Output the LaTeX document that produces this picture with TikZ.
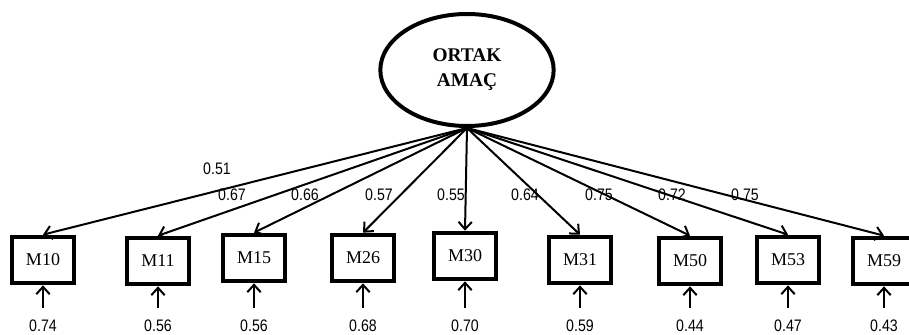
\documentclass[tikz,border=0pt]{standalone}
\usepackage{fontspec}
\setmainfont{Liberation Serif}
\newfontfamily\numfont[FakeStretch=0.85]{Liberation Sans}
\usetikzlibrary{arrows.meta,shapes.geometric}

\begin{document}
\begin{tikzpicture}[x=0.75pt,y=-0.75pt,
  latent/.style={ellipse,draw,line width=3pt,minimum width=130pt,minimum height=84pt,
    align=center,font=\fontsize{14.5}{18.75}\selectfont\bfseries},
  item/.style={rectangle,draw,line width=3pt,minimum width=46.5pt,minimum height=35pt,
    font=\fontsize{13.5}{16}\selectfont},
  coef/.style={font=\numfont\fontsize{12.5}{14}\selectfont,inner sep=1pt},
  load/.style={-{Straight Barb[length=5.5pt,width=10pt]},line width=1.5pt},
  err/.style={load,shorten <=8pt}]
  \useasboundingbox (0,0) rectangle (909,335);
  \clip (0,0) rectangle (909,335);
  % common factor
  \node[latent] (oa) at (467,70) {ORTAK\\AMAÇ};
  % observed items
  \node[item] (m10) at (43,260) {M10};
  \node[item] (m11) at (158,261) {M11};
  \node[item] (m15) at (254,258) {M15};
  \node[item] (m26) at (363,258) {M26};
  \node[item] (m30) at (465,256) {M30};
  \node[item] (m31) at (580,260) {M31};
  \node[item] (m50) at (690,261) {M50};
  \node[item] (m53) at (788,260) {M53};
  \node[item] (m59) at (884,261) {M59};
  % loadings
  \foreach \m in {m10,m11,m15,m26,m30,m31,m50,m53,m59}
    \draw[load] (oa.south) -- (\m.north);
  \node[coef] (l10) at (217,169) {0.51};
  \node[coef] (l11) at (232,195) {0.67};
  \node[coef] (l15) at (305,195) {0.66};
  \node[coef] (l26) at (379,195) {0.57};
  \node[coef] (l30) at (451,195) {0.55};
  \node[coef] (l31) at (525,195) {0.64};
  \node[coef] (l50) at (599,195) {0.75};
  \node[coef] (l53) at (672,195) {0.72};
  \node[coef] (l59) at (745,195) {0.75};
  % error terms
  \node[coef] (e10) at (43,326) {0.74};
  \node[coef] (e11) at (158,326) {0.56};
  \node[coef] (e15) at (254,326) {0.56};
  \node[coef] (e26) at (363,326) {0.68};
  \node[coef] (e30) at (465,326) {0.70};
  \node[coef] (e31) at (580,326) {0.59};
  \node[coef] (e50) at (690,326) {0.44};
  \node[coef] (e53) at (788,326) {0.47};
  \node[coef] (e59) at (884,326) {0.43};
  \foreach \n in {10,11,15,26,30,31,50,53,59}
    \draw[err] (e\n.north) -- (m\n.south);
\end{tikzpicture}
\end{document}
